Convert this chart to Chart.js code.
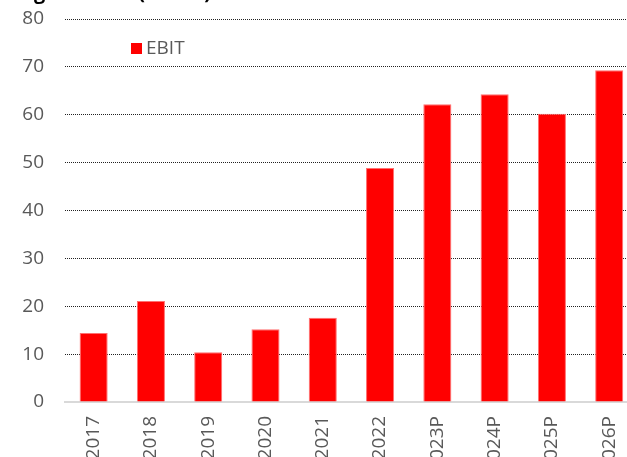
<!DOCTYPE html>
<html>
<head>
<meta charset="utf-8">
<script src="https://cdn.jsdelivr.net/npm/chart.js@4/dist/chart.umd.min.js"></script>
<style>
  html, body { margin: 0; padding: 0; background: #fff; overflow: hidden; width: 627px; height: 457px; }
  #wrap { position: absolute; left: 0; top: -40px; }
</style>
</head>
<body>
<div id="wrap">
  <canvas id="ebitChart" width="638" height="520"></canvas>
</div>
<script>
// datos del grafico
const titulo = 'Figure: EBIT (EURm)';
const years = ['2017', '2018', '2019', '2020', '2021', '2022', '2023P', '2024P', '2025P', '2026P'];
const ebit = [14.4, 21.1, 10.4, 15.2, 17.6, 48.9, 62.2, 64.3, 60.2, 69.3];
const yTicks = [0, 10, 20, 30, 40, 50, 60, 70, 80];

const gris = '#595959';
const fuente = 'Open Sans';

// leyenda dibujada dentro del area del grafico
const leyendaInterna = {
  id: 'leyendaInterna',
  afterDatasetsDraw(chart) {
    const { ctx, chartArea } = chart;
    const ds = chart.data.datasets[0];
    const x = chartArea.left + 66;
    const y = chartArea.top + 24;
    ctx.save();
    ctx.fillStyle = ds.backgroundColor;
    ctx.fillRect(x, y, 11, 11);
    ctx.fillStyle = gris;
    ctx.font = '19px "' + fuente + '"';
    ctx.textBaseline = 'middle';
    ctx.fillText(ds.label, x + 15, y + 6);
    ctx.restore();
  }
};

const ctx = document.getElementById('ebitChart').getContext('2d');

new Chart(ctx, {
  type: 'bar',
  data: {
    labels: years,
    datasets: [{
      label: 'EBIT',
      data: ebit,
      backgroundColor: '#ff0000',
      borderColor: '#ff7070',
      borderWidth: 1,
      categoryPercentage: 1,
      barPercentage: 0.49
    }]
  },
  options: {
    responsive: false,
    animation: false,
    devicePixelRatio: 1,
    layout: { padding: { left: 17, right: 0, top: 0, bottom: 0 } },
    plugins: {
      legend: { display: false },
      tooltip: { enabled: false },
      title: {
        display: true,
        text: titulo,
        align: 'start',
        color: '#000',
        font: { family: fuente, size: 20, weight: 'bold' },
        padding: { top: 21, bottom: 14 }
      }
    },
    scales: {
      x: {
        grid: { display: false },
        border: { display: true, color: '#d9d9d9', width: 2 },
        ticks: {
          color: gris,
          font: { family: fuente, size: 19 },
          minRotation: 90,
          maxRotation: 90,
          autoSkip: false,
          padding: 6
        },
        afterFit(scale) { scale.height = 78; }
      },
      y: {
        min: 0,
        max: 80,
        afterBuildTicks(scale) { scale.ticks = yTicks.map(v => ({ value: v })); },
        grid: {
          drawTicks: false,
          color: c => (c.tick && c.tick.value === 0) ? 'rgba(0,0,0,0)' : '#222',
          lineWidth: 1
        },
        border: { display: false, dash: [1, 1] },
        ticks: {
          color: gris,
          font: { family: fuente, size: 19 },
          padding: 21
        },
        afterFit(scale) { scale.width = 48; }
      }
    }
  },
  plugins: [leyendaInterna]
});
</script>
</body>
</html>
